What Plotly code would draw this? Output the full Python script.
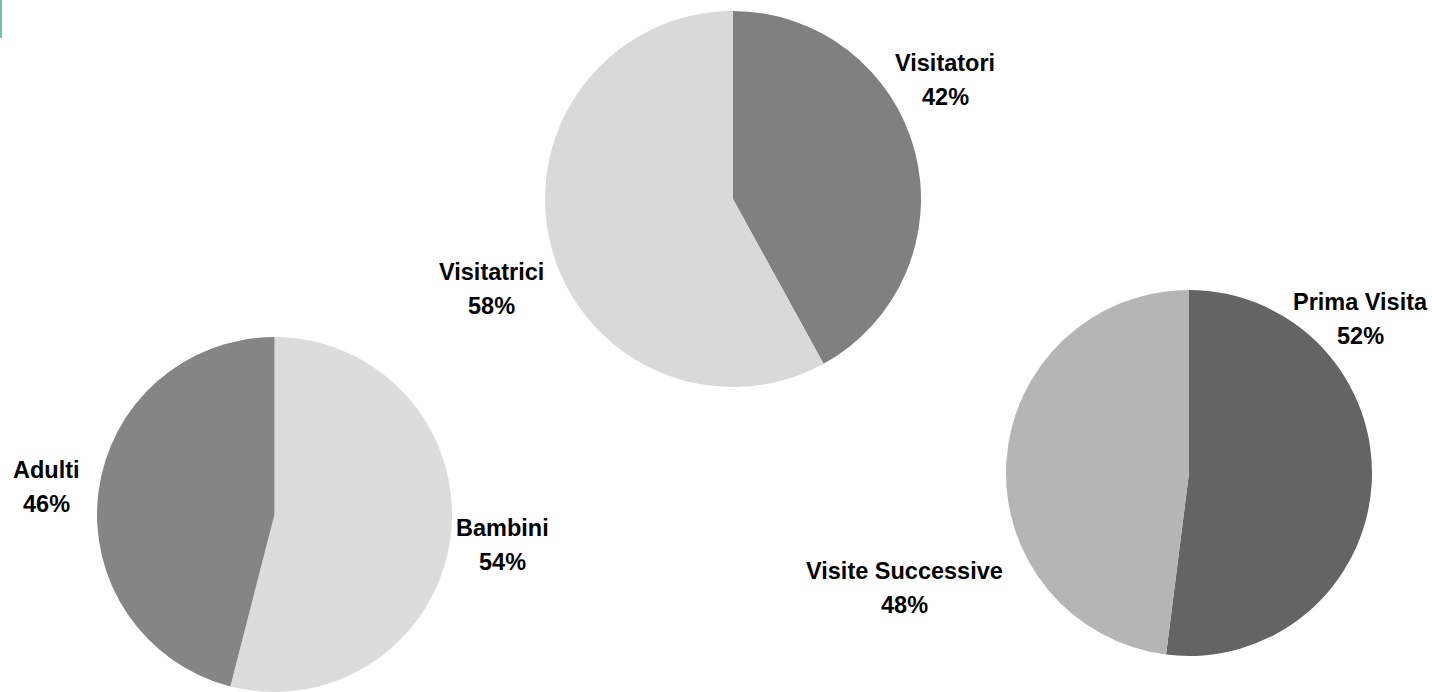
import plotly.graph_objects as go

W, H = 1432, 692

# Data
gender_labels = ["Visitatori", "Visitatrici"]
gender_values = [42, 58]
gender_colors = ["#808080", "#d9d9d9"]

age_labels = ["Bambini", "Adulti"]
age_values = [54, 46]
age_colors = ["#dcdcdc", "#858585"]

visit_labels = ["Prima Visita", "Visite Successive"]
visit_values = [52, 48]
visit_colors = ["#646464", "#b5b5b5"]

def px_dom(x0, x1, y0, y1):
    return dict(x=[x0 / W, x1 / W], y=[1 - y1 / H, 1 - y0 / H])

pies = [
    (gender_labels, gender_values, gender_colors, px_dom(545, 921, 11, 387)),
    (age_labels, age_values, age_colors, px_dom(96, 453, 337, 692)),
    (visit_labels, visit_values, visit_colors, px_dom(1006, 1372, 290, 656)),
]

fig = go.Figure()
for labels, values, colors, dom in pies:
    fig.add_trace(go.Pie(
        labels=labels, values=values, sort=False, direction="clockwise", rotation=0,
        marker=dict(colors=colors, line=dict(width=0)),
        textinfo="none", hoverinfo="label+percent", domain=dom, showlegend=False,
    ))

# label positions (pixel centers) for each slice label
label_pos = {
    "Visitatori": (945, 80),
    "Visitatrici": (491, 289),
    "Bambini": (502, 545),
    "Adulti": (46, 487),
    "Prima Visita": (1360, 319),
    "Visite Successive": (905, 588),
}

font = dict(family="Liberation Sans, Arial, sans-serif", size=23.5, color="#000000")
annotations = []
for labels, values, colors, dom in pies:
    total = sum(values)
    for lab, v in zip(labels, values):
        cx, cy = label_pos[lab]
        pct = f"{round(100 * v / total)}%"
        for txt, dy in ((f"<b>{lab}</b>", -17), (f"<b>{pct}</b>", 17)):
            annotations.append(dict(
                x=cx / W, y=1 - (cy + dy) / H, xref="paper", yref="paper",
                text=txt, showarrow=False, font=font,
                xanchor="center", yanchor="middle",
            ))

fig.update_layout(
    width=W, height=H,
    margin=dict(l=0, r=0, t=0, b=0),
    paper_bgcolor="white", plot_bgcolor="white",
    annotations=annotations,
    shapes=[dict(type="rect", xref="paper", yref="paper",
                 x0=0, x1=2 / W, y0=1 - 38 / H, y1=1,
                 fillcolor="rgba(60,170,110,0.7)", line=dict(width=0))],
)

fig.write_html("out.html",
               config={"displayModeBar": False},
               post_script="document.body.style.margin='0';document.body.style.overflow='hidden';")
